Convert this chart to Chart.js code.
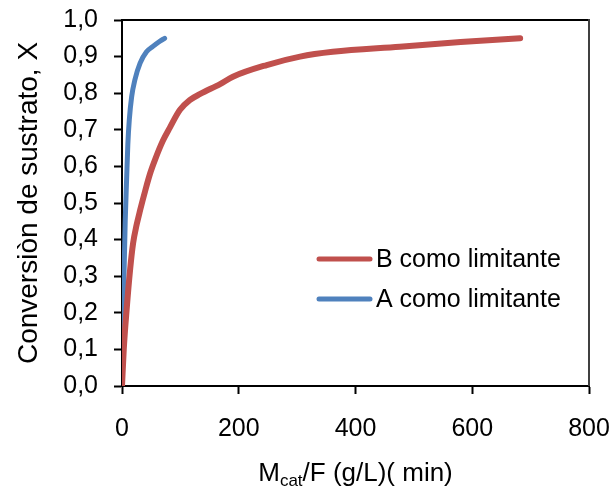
<!DOCTYPE html>
<html>
<head>
<meta charset="utf-8">
<script src="https://cdn.jsdelivr.net/npm/chart.js@4/dist/chart.umd.min.js"></script>
<style>
  html, body { margin: 0; padding: 0; background: #ffffff; }
  canvas { display: block; }
</style>
</head>
<body>
<canvas id="chart" width="613" height="493"></canvas>
<script>
// Conversion curves against catalyst mass / flow
const seriesNames = ['B como limitante', 'A como limitante'];
const seriesColors = ['#C0504D', '#4F81BD'];

const bX = [0, 3, 8, 14, 19, 25, 31, 40, 48, 57, 70, 82, 99, 116, 134, 168, 190, 248, 305, 361, 476, 580, 682];
const bY = [0, 0.10, 0.21, 0.32, 0.39, 0.44, 0.48, 0.535, 0.58, 0.62, 0.67, 0.706, 0.754, 0.781, 0.798, 0.825, 0.845, 0.877, 0.900, 0.913, 0.927, 0.940, 0.950];

const aX = [0, 1, 3.4, 5.5, 8, 10, 12.5, 16.5, 22, 31, 42, 53, 63, 73];
const aY = [0, 0.12, 0.30, 0.45, 0.57, 0.66, 0.727, 0.79, 0.836, 0.882, 0.913, 0.928, 0.940, 0.950];

const xTicks = [0, 200, 400, 600, 800];
const yTicks = [0, 0.1, 0.2, 0.3, 0.4, 0.5, 0.6, 0.7, 0.8, 0.9, 1.0];

const FONT = "'Liberation Sans', Arial, sans-serif";

function toPoints(xs, ys) {
  return xs.map((x, i) => ({ x: x, y: ys[i] }));
}

// Keep the plot area fixed: no extra room reserved for overhanging end labels
function noOverhang(scale) {
  scale.paddingLeft = 0;
  scale.paddingRight = 0;
  scale.paddingTop = 0;
  scale.paddingBottom = 0;
}

// Plot-area frame (top and right edges)
const frame = {
  id: 'frame',
  beforeDatasetsDraw(chart) {
    const { ctx, chartArea: a } = chart;
    ctx.save();
    ctx.lineWidth = 2;
    ctx.strokeStyle = '#000000';
    ctx.beginPath();
    ctx.moveTo(a.left, a.top);
    ctx.lineTo(a.right, a.top);
    ctx.stroke();
    ctx.strokeStyle = '#404040';
    ctx.beginPath();
    ctx.moveTo(a.right, a.top - 1);
    ctx.lineTo(a.right, a.bottom);
    ctx.stroke();
    ctx.restore();
  }
};

// Axis titles (x title carries a subscript)
const axisTitles = {
  id: 'axisTitles',
  afterDraw(chart) {
    const { ctx, chartArea: a } = chart;
    ctx.save();
    ctx.fillStyle = '#000000';
    ctx.textBaseline = 'alphabetic';

    // x title: M_cat/F (g/L)( min)
    const big = '26px ' + FONT, small = '17px ' + FONT;
    const parts = [
      { t: 'M', f: big, dy: 0 },
      { t: 'cat', f: small, dy: 5 },
      { t: '/F (g/L)( min)', f: big, dy: 0 }
    ];
    let total = 0;
    parts.forEach(p => { ctx.font = p.f; p.w = ctx.measureText(p.t).width; total += p.w; });
    let x = (a.left + a.right) / 2 - total / 2;
    const base = 481;
    ctx.textAlign = 'left';
    parts.forEach(p => { ctx.font = p.f; ctx.fillText(p.t, x, base + p.dy); x += p.w; });

    // y title
    ctx.font = '28px ' + FONT;
    ctx.translate(37, (a.top + a.bottom) / 2);
    ctx.rotate(-Math.PI / 2);
    ctx.textAlign = 'center';
    ctx.fillText('Conversiòn de sustrato, X', 0, 0);
    ctx.restore();
  }
};

// Legend drawn inside the plot area
const innerLegend = {
  id: 'innerLegend',
  afterDraw(chart) {
    const { ctx } = chart;
    const rows = [259, 299];
    ctx.save();
    ctx.font = '25px ' + FONT;
    ctx.textBaseline = 'middle';
    ctx.textAlign = 'left';
    seriesNames.forEach((name, i) => {
      ctx.strokeStyle = seriesColors[i];
      ctx.lineWidth = 5;
      ctx.lineCap = 'round';
      ctx.beginPath();
      ctx.moveTo(319, rows[i]);
      ctx.lineTo(370, rows[i]);
      ctx.stroke();
      ctx.fillStyle = '#000000';
      ctx.fillText(name, 376, rows[i] + 1);
    });
    ctx.restore();
  }
};

new Chart(document.getElementById('chart'), {
  type: 'scatter',
  data: {
    datasets: [
      {
        label: seriesNames[0],
        data: toPoints(bX, bY),
        showLine: true,
        borderColor: seriesColors[0],
        backgroundColor: seriesColors[0],
        borderWidth: 6,
        borderCapStyle: 'round',
        pointRadius: 0,
        cubicInterpolationMode: 'monotone'
      },
      {
        label: seriesNames[1],
        data: toPoints(aX, aY),
        showLine: true,
        borderColor: seriesColors[1],
        backgroundColor: seriesColors[1],
        borderWidth: 5,
        borderCapStyle: 'round',
        pointRadius: 0,
        cubicInterpolationMode: 'monotone'
      }
    ]
  },
  options: {
    responsive: false,
    animation: false,
    layout: { padding: { left: 0, right: 24, top: 20, bottom: 0 } },
    plugins: {
      legend: { display: false },
      tooltip: { enabled: false }
    },
    scales: {
      x: {
        type: 'linear',
        min: xTicks[0],
        max: xTicks[xTicks.length - 1],
        afterBuildTicks(scale) { scale.ticks = xTicks.map(v => ({ value: v })); },
        afterFit(scale) { scale.height = 107; noOverhang(scale); },
        ticks: {
          font: { family: FONT, size: 25 },
          color: '#000000',
          padding: 20,
          maxRotation: 0,
          callback: v => String(v)
        },
        grid: { drawOnChartArea: false, drawTicks: true, tickLength: 8, tickWidth: 2, tickColor: '#000000' },
        border: { display: true, color: '#000000', width: 2 }
      },
      y: {
        type: 'linear',
        min: yTicks[0],
        max: yTicks[yTicks.length - 1],
        afterBuildTicks(scale) { scale.ticks = yTicks.map(v => ({ value: v })); },
        afterFit(scale) { scale.width = 122; noOverhang(scale); },
        ticks: {
          font: { family: FONT, size: 25 },
          color: '#000000',
          padding: 16,
          callback: v => v.toFixed(1).replace('.', ',')
        },
        grid: { drawOnChartArea: false, drawTicks: true, tickLength: 8, tickWidth: 2, tickColor: '#000000' },
        border: { display: true, color: '#000000', width: 2 }
      }
    }
  },
  plugins: [frame, axisTitles, innerLegend]
});
</script>
</body>
</html>
